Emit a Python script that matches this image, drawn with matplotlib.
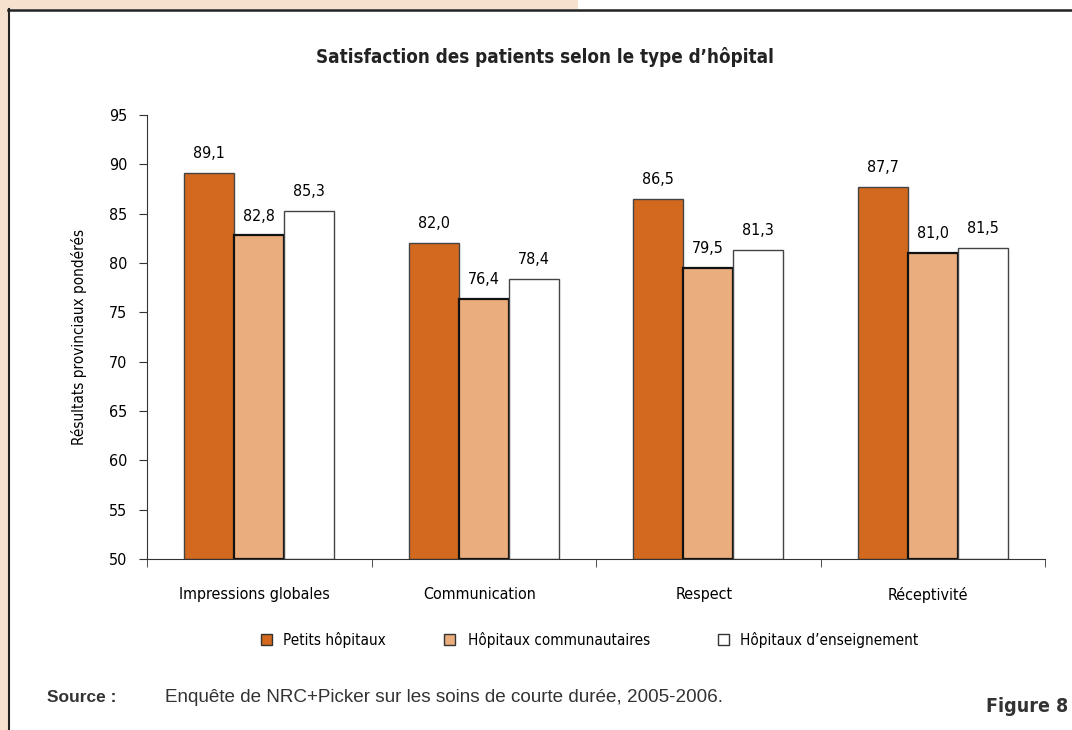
import numpy as np
import matplotlib.pyplot as plt
from matplotlib.patches import Rectangle
from matplotlib.lines import Line2D

categories = ["Impressions globales", "Communication", "Respect", "Réceptivité"]
series_names = ["Petits hôpitaux", "Hôpitaux communautaires", "Hôpitaux d\u2019enseignement"]
petits = [89.1, 82.0, 86.5, 87.7]
communautaires = [82.8, 76.4, 79.5, 81.0]
enseignement = [85.3, 78.4, 81.3, 81.5]
yticks = [50, 55, 60, 65, 70, 75, 80, 85, 90, 95]

narrow = ['Liberation Sans Narrow', 'DejaVu Sans']
nk = dict(family=narrow, fontstretch='condensed')
colors = ['#D2691E', '#EAAD7D', '#FFFFFF']
peach = '#F6E1CE'

fig = plt.figure(figsize=(10.72, 7.3), dpi=100)

# peach page margin + frame lines
fig.patches.append(Rectangle((0, 0), 8 / 1072, 1, transform=fig.transFigure,
                             facecolor=peach, edgecolor='none', zorder=0))
fig.patches.append(Rectangle((0, 1 - 9 / 730), 578 / 1072, 9 / 730, transform=fig.transFigure,
                             facecolor=peach, edgecolor='none', zorder=0))
fig.lines.append(Line2D([8.5 / 1072, 8.5 / 1072], [0, 1 - 9 / 730], transform=fig.transFigure,
                        color='#222222', lw=1.5))
fig.lines.append(Line2D([8 / 1072, 1], [1 - 9.5 / 730, 1 - 9.5 / 730], transform=fig.transFigure,
                        color='#222222', lw=1.8))

ax = fig.add_axes([147 / 1072, 1 - 559 / 730, (1045 - 147) / 1072, (559 - 115) / 730])

x = np.arange(len(categories))
w = 0.222
data = [petits, communautaires, enseignement]
for i, vals in enumerate(data):
    lw = 1.6 if i == 1 else 1.0
    ec = '#111111' if i == 1 else '#444444'
    ax.bar(x + (i - 1) * w, np.array(vals) - 50, w, bottom=50,
           color=colors[i], edgecolor=ec, linewidth=lw, label=series_names[i], zorder=2)
    for xi, v in zip(x + (i - 1) * w, vals):
        ax.text(xi, v + 1.2, f"{v:.1f}".replace('.', ','), ha='center', va='bottom',
                fontsize=11.5, **nk)

ax.set_ylim(50, 95)
ax.set_xlim(-0.5, 3.5)
ax.set_yticks(yticks)
ax.set_yticklabels([str(t) for t in yticks], fontsize=11.5, **nk)
# category labels sit a little left of group centres in the original
ax.set_xticks(x - 0.02)
ax.set_xticklabels(categories, fontsize=11.5, **nk)
ax.tick_params(axis='x', length=0, pad=20)
ax.set_xticks(np.arange(-0.5, 4.0, 1.0), minor=True)
ax.tick_params(axis='x', which='minor', length=6, direction='out', color='#333333')
ax.tick_params(axis='y', length=6, direction='out', color='#333333', pad=8)
for s in ['top', 'right']:
    ax.spines[s].set_visible(False)
ax.spines['left'].set_color('#333333')
ax.spines['bottom'].set_color('#333333')
ax.set_ylabel("Résultats provinciaux pondérés", fontsize=11, labelpad=16, **nk)

fig.text(545 / 1072, 1 - 57 / 730, "Satisfaction des patients selon le type d\u2019hôpital",
         ha='center', va='center', fontsize=13.5, fontweight='bold', color='#222222', **nk)

# legend
leg_box = [266, 449, 723]
leg_txt = [283, 468, 740]
for i in range(3):
    fig.patches.append(Rectangle(((leg_box[i] - 5.5) / 1072, 1 - 644.5 / 730), 11 / 1072, 11 / 730,
                                 transform=fig.transFigure, facecolor=colors[i],
                                 edgecolor='#333333', lw=1.0))
    fig.text(leg_txt[i] / 1072, 1 - 640 / 730, series_names[i], ha='left', va='center',
             fontsize=11, **nk)

fig.text(47 / 1072, 1 - 698 / 730, "Source :", ha='left', va='center', fontsize=12.5,
         fontweight='bold', family=['Liberation Sans', 'DejaVu Sans'], color='#333333')
fig.text(165 / 1072, 1 - 697 / 730,
         "Enquête de NRC+Picker sur les soins de courte durée, 2005-2006.",
         ha='left', va='center', fontsize=13.6, family=['Liberation Sans', 'DejaVu Sans'],
         color='#333333')
fig.text(1068 / 1072, 1 - 706 / 730, "Figure 8", ha='right', va='center', fontsize=14,
         fontweight='bold', color='#333333', **nk)

fig.savefig('out.png', dpi=100)
